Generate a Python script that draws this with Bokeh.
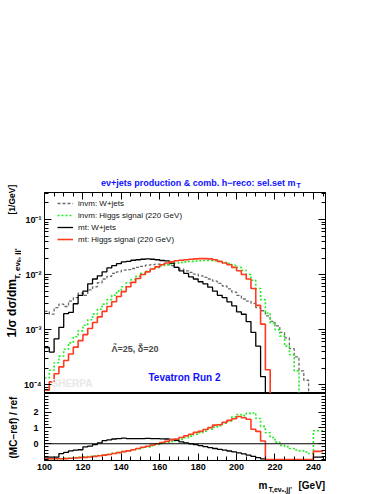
import numpy as np
from bokeh.plotting import figure
from bokeh.layouts import column, row
from bokeh.models import (FixedTicker, LinearAxis, LogAxis, Label, Legend,
                          LegendItem, Span, Range1d)
from bokeh.embed import file_html
from bokeh.resources import INLINE

# ---------------- data ----------------
BIN_EDGES = [100.0, 102.5, 105.0, 107.5, 110.0, 112.5, 115.0, 117.5, 120.0, 122.5,
             125.0, 127.5, 130.0, 132.5, 135.0, 137.5, 140.0, 142.5, 145.0, 147.5,
             150.0, 152.5, 155.0, 157.5, 160.0, 162.5, 165.0, 167.5, 170.0, 172.5,
             175.0, 177.5, 180.0, 182.5, 185.0, 187.5, 190.0, 192.5, 195.0, 197.5,
             200.0, 202.5, 205.0, 207.5, 210.0, 212.5, 215.0, 217.5, 220.0, 222.5,
             225.0, 227.5, 230.0, 232.5, 235.0, 237.5, 240.0, 242.5, 245.0]

INVM_WJETS = [2.14e-3, 1.91e-3, 2.5e-3, 2.9e-3, 2.63e-3, 3.3e-3, 3.8e-3, 4.6e-3, 4.2e-3, 5.25e-3,
              6.0e-3, 7.1e-3, 8.3e-3, 9.3e-3, 1.05e-2, 1.12e-2, 1.20e-2, 1.23e-2, 1.29e-2, 1.35e-2,
              1.41e-2, 1.48e-2, 1.51e-2, 1.55e-2, 1.55e-2, 1.51e-2, 1.45e-2, 1.35e-2, 1.26e-2, 1.17e-2,
              1.10e-2, 1.02e-2, 9.5e-3, 8.9e-3, 8.3e-3, 7.6e-3, 6.9e-3, 6.2e-3, 5.5e-3, 4.8e-3,
              4.2e-3, 3.6e-3, 3.3e-3, 3.0e-3, 2.5e-3, 2.2e-3, 1.78e-3, 1.41e-3, 1.17e-3, 8.9e-4,
              7.1e-4, 4.5e-4, 3.2e-4, 1.78e-4, 1.2e-4, 0.0, 0.0, 0.0]

INVM_HIGGS = [1.32e-4, 1.82e-4, 2.5e-4, 3.3e-4, 4.4e-4, 5.75e-4, 7.4e-4, 9.5e-4, 1.20e-3, 1.51e-3,
              1.91e-3, 2.34e-3, 2.9e-3, 3.5e-3, 4.2e-3, 5.0e-3, 6.0e-3, 7.1e-3, 8.1e-3, 9.3e-3,
              1.05e-2, 1.15e-2, 1.26e-2, 1.35e-2, 1.45e-2, 1.51e-2, 1.58e-2, 1.62e-2, 1.66e-2, 1.70e-2,
              1.74e-2, 1.76e-2, 1.78e-2, 1.80e-2, 1.80e-2, 1.78e-2, 1.74e-2, 1.66e-2, 1.58e-2, 1.48e-2,
              1.35e-2, 1.20e-2, 1.0e-2, 7.9e-3, 5.6e-3, 3.5e-3, 2.0e-3, 1.32e-3, 1.0e-3, 7.6e-4,
              5.0e-4, 3.5e-4, 1.78e-4, 0.0, 0.0, 0.0, 0.0, 0.0]

MT_WJETS = [4.7e-4, 3.9e-4, 6.8e-4, 1.10e-3, 1.95e-3, 2.05e-3, 2.95e-3, 4.2e-3, 5.0e-3, 6.8e-3,
            8.3e-3, 9.5e-3, 1.12e-2, 1.32e-2, 1.45e-2, 1.58e-2, 1.70e-2, 1.74e-2, 1.82e-2, 1.86e-2,
            1.90e-2, 1.93e-2, 1.90e-2, 1.86e-2, 1.80e-2, 1.78e-2, 1.62e-2, 1.35e-2, 1.17e-2, 1.05e-2,
            9.1e-3, 8.3e-3, 7.4e-3, 6.8e-3, 5.9e-3, 5.0e-3, 4.2e-3, 3.8e-3, 3.2e-3, 2.7e-3,
            2.1e-3, 1.9e-3, 1.4e-3, 8.9e-4, 5.0e-4, 1.4e-4, 0.0, 0.0, 0.0, 0.0,
            0.0, 0.0, 0.0, 0.0, 0.0, 0.0, 0.0, 0.0]

MT_HIGGS = [7.9e-5, 1.12e-4, 1.58e-4, 2.1e-4, 2.75e-4, 3.6e-4, 4.8e-4, 6.3e-4, 8.1e-4, 1.05e-3,
            1.35e-3, 1.70e-3, 2.14e-3, 2.63e-3, 3.2e-3, 4.0e-3, 4.9e-3, 6.0e-3, 7.2e-3, 8.5e-3,
            1.0e-2, 1.12e-2, 1.26e-2, 1.38e-2, 1.51e-2, 1.62e-2, 1.70e-2, 1.78e-2, 1.82e-2, 1.86e-2,
            1.90e-2, 1.93e-2, 1.95e-2, 1.95e-2, 1.93e-2, 1.86e-2, 1.74e-2, 1.62e-2, 1.51e-2, 1.35e-2,
            1.17e-2, 1.0e-2, 8.3e-3, 5.6e-3, 2.75e-3, 1.26e-3, 1.86e-4, 0.0, 0.0, 0.0,
            0.0, 0.0, 0.0, 0.0, 0.0, 0.0, 0.0, 0.0]

# (MC - ref) / ref, reference = invm: W+jets
RATIO_MT_WJETS = [-0.85, -0.85, -0.85, -0.62, -0.55, -0.45, -0.40, -0.38, -0.20, -0.15,
                  -0.05, 0.05, 0.20, 0.25, 0.30, 0.32, 0.35, 0.33, 0.33, 0.32,
                  0.33, 0.34, 0.32, 0.33, 0.31, 0.30, 0.27, 0.22, 0.12, 0.06,
                  0.00, -0.06, -0.12, -0.18, -0.24, -0.30, -0.35, -0.40, -0.46, -0.52,
                  -0.58, -0.64, -0.72, -0.80, -0.88, -0.96, -1.0, -1.0, -1.0, -1.0,
                  -1.0, -1.0, -1.0, -1.0, -1.0, -1.0, -0.85, -0.85]

RATIO_MT_HIGGS = [-0.95, -0.95, -0.95, -0.95, -0.94, -0.92, -0.90, -0.88, -0.86, -0.84,
                  -0.80, -0.76, -0.72, -0.68, -0.62, -0.56, -0.50, -0.45, -0.38, -0.30,
                  -0.22, -0.16, -0.08, 0.00, 0.08, 0.15, 0.25, 0.30, 0.40, 0.50,
                  0.60, 0.72, 0.78, 0.90, 1.02, 1.18, 1.20, 1.35, 1.48, 1.58,
                  1.72, 1.65, 1.55, 0.92, 0.78, 0.17, -1.0, -1.0, -1.0, -1.0,
                  -1.0, -1.0, -1.0, -1.0, -1.0, -1.0, -0.48, -0.48]

RATIO_INVM_HIGGS = [-0.95, -0.95, -0.94, -0.93, -0.92, -0.90, -0.88, -0.85, -0.83, -0.80,
                    -0.78, -0.74, -0.70, -0.66, -0.60, -0.55, -0.50, -0.45, -0.38, -0.32,
                    -0.25, -0.20, -0.12, -0.05, 0.02, 0.10, 0.15, 0.20, 0.28, 0.38,
                    0.48, 0.60, 0.70, 0.80, 0.92, 1.05, 1.15, 1.30, 1.45, 1.70,
                    1.85, 1.78, 1.92, 1.95, 1.60, 1.10, 0.70, 0.40, 0.10, -0.10,
                    -0.18, -0.30, -0.40, -0.45, -0.52, -0.62, 0.82, 0.82]

X_TICKS = [100, 120, 140, 160, 180, 200, 220, 240]
Y_TICKS = [1e-4, 1e-3, 1e-2, 1e-1]
Y_TICK_LABELS = ["10\u207b\u2074", "10\u207b\u00b3", "10\u207b\u00b2", "10\u207b\u00b9"]
R_TICKS = [0, 1, 2]

LEGEND_LABELS = ["invm: W+jets", "invm: Higgs signal (220 GeV)",
                 "mt: W+jets", "mt: Higgs signal (220 GeV)"]

# ---------------- styling ----------------
FONT = "Liberation Sans"
C_GREY = "#6a6a6a"
C_GREEN = "#22ee22"
C_BLACK = "#000000"
C_RED = "#ff3b1f"
C_BLUE = "#1010ff"

X_MIN, X_MAX = 100.0, 246.3
Y_MIN, Y_MAX = 6.9e-5, 0.31
R_MIN, R_MAX = -1.06, 3.18

LEFT_W = 21          # strip holding the rotated y titles
PLOT_W = 353         # width of the two data panels
B_LEFT, B_RIGHT = 22, 49
FRAME_X0 = LEFT_W + B_LEFT   # window x of the frames' left edge (43)
TITLE_H = 188
MAIN_TOPB, MAIN_H = 4, 201
RAT_H, RAT_BOTTOMB = 67, 16
XLAB_H = 18
TOTAL_H = TITLE_H + MAIN_TOPB + MAIN_H + RAT_H + RAT_BOTTOMB + XLAB_H  # 494


def step_path(edges, vals, floor=None):
    xs, ys = [], []
    for i, v in enumerate(vals):
        if floor is not None and v <= 0:
            v = floor
        xs += [edges[i], edges[i + 1]]
        ys += [v, v]
    return xs, ys


x_minor = [float(v) for v in np.arange(100, 250, 5) if v not in X_TICKS]
y_minor = [m * 10.0 ** k for k in range(-5, 0) for m in range(2, 10)]
r_minor = [round(float(v), 2) for v in np.arange(-1.0, 3.21, 0.2)]


def style_axis(ax, show_labels=True):
    ax.major_tick_in = 7
    ax.major_tick_out = 0
    ax.minor_tick_in = 4
    ax.minor_tick_out = 0
    ax.axis_line_color = "black"
    ax.major_tick_line_color = "black"
    ax.minor_tick_line_color = "black"
    ax.major_label_text_font = FONT
    ax.major_label_text_font_style = "bold"
    ax.major_label_text_font_size = "9px"
    ax.major_label_text_color = "black"
    if not show_labels:
        ax.major_label_text_font_size = "1px"
        ax.major_label_text_alpha = 0.0
        ax.major_label_standoff = 0


def blank_fig(w, h):
    f = figure(width=w, height=h, x_range=Range1d(0, 1), y_range=Range1d(0, 1),
               x_axis_location=None, y_axis_location=None,
               output_backend="svg", toolbar_location=None, min_border=0)
    f.grid.visible = False
    f.outline_line_color = None
    return f


def lab(fig, text, x, y, size, color="black", style="bold", align="left",
        baseline="alphabetic", angle=0.0):
    fig.add_layout(Label(x=x, y=y, x_units="screen", y_units="screen", text=text,
                         text_font=FONT, text_font_size=size, text_color=color,
                         text_font_style=style, text_align=align,
                         text_baseline=baseline, angle=angle, angle_units="deg"))


# ---------------- title strip (its frame is aligned with the data frames) ----------------
T = blank_fig(PLOT_W, TITLE_H)
lab(T, "e\u03bd+jets production & comb. h\u2212reco: sel.set m", 294 - FRAME_X0, TITLE_H - 182,
    "9px", color=C_BLUE, align="right")
lab(T, "T", 295 - FRAME_X0, TITLE_H - 185, "7px", color=C_BLUE)

# ---------------- main panel ----------------
p1 = figure(width=PLOT_W, height=MAIN_TOPB + MAIN_H,
            x_range=Range1d(X_MIN, X_MAX), y_range=Range1d(Y_MIN, Y_MAX),
            y_axis_type="log", x_axis_location="above",
            output_backend="svg", toolbar_location=None,
            min_border_left=B_LEFT, min_border_right=B_RIGHT,
            min_border_top=MAIN_TOPB, min_border_bottom=0)
p1.grid.visible = False
p1.outline_line_color = "black"

p1.xaxis.ticker = FixedTicker(ticks=X_TICKS, minor_ticks=x_minor)
p1.yaxis.ticker = FixedTicker(ticks=Y_TICKS, minor_ticks=y_minor)
p1.yaxis.major_label_overrides = {t: s for t, s in zip(Y_TICKS, Y_TICK_LABELS)}
style_axis(p1.xaxis[0], show_labels=False)
style_axis(p1.yaxis[0])
p1.yaxis.major_label_standoff = 3
ax_r = LogAxis(ticker=FixedTicker(ticks=Y_TICKS, minor_ticks=y_minor))
style_axis(ax_r, show_labels=False)
p1.add_layout(ax_r, "right")

FLOOR = 1e-9
series = [
    (INVM_WJETS, C_GREY, 1.3, "3 2"),
    (INVM_HIGGS, C_GREEN, 1.6, "2 2"),
    (MT_WJETS, C_BLACK, 1.3, "solid"),
    (MT_HIGGS, C_RED, 1.6, "solid"),
]
renderers = []
for vals, col, lw, dash in series:
    xs, ys = step_path(BIN_EDGES, vals, FLOOR)
    renderers.append(p1.line(xs, ys, line_color=col, line_width=lw, line_dash=dash))

legend = Legend(items=[LegendItem(label=l_, renderers=[r])
                       for l_, r in zip(LEGEND_LABELS, renderers)],
                location=(13, 148), orientation="vertical",
                background_fill_alpha=0, border_line_alpha=0,
                padding=0, margin=0, spacing=0,
                glyph_width=16, glyph_height=12, label_height=12,
                label_standoff=5,
                label_text_font=FONT, label_text_font_size="8px",
                label_text_color="#111111")
p1.add_layout(legend)

# labels inside the main frame (x = window x - 43, y = 393 - window y)
lab(p1, "SHERPA", 50 - 43, 393 - 383, "10px", color="#e8e8e8")
lab(p1, "\u039b\u0303=25, \u03b4\u0303=20", 110 - 43, 393 - 348, "9px", color="#4a4a4a")
lab(p1, "Tevatron Run 2", 183 - 43, 393 - 377, "10px", color=C_BLUE, align="center")

# ---------------- ratio panel ----------------
p2 = figure(width=PLOT_W, height=RAT_H + RAT_BOTTOMB,
            x_range=p1.x_range, y_range=Range1d(R_MIN, R_MAX),
            output_backend="svg", toolbar_location=None,
            min_border_left=B_LEFT, min_border_right=B_RIGHT,
            min_border_top=0, min_border_bottom=RAT_BOTTOMB)
p2.grid.visible = False
p2.outline_line_color = "black"
p2.xaxis.ticker = FixedTicker(ticks=X_TICKS, minor_ticks=x_minor)
p2.yaxis.ticker = FixedTicker(ticks=R_TICKS, minor_ticks=r_minor)
style_axis(p2.xaxis[0])
p2.xaxis.major_label_standoff = 3
style_axis(p2.yaxis[0])
p2.yaxis.major_label_standoff = 6
ax_r2 = LinearAxis(ticker=FixedTicker(ticks=R_TICKS, minor_ticks=r_minor))
style_axis(ax_r2, show_labels=False)
p2.add_layout(ax_r2, "right")

p2.add_layout(Span(location=0, dimension="width", line_color="black", line_width=1))
for vals, col, lw, dash in [(RATIO_INVM_HIGGS, C_GREEN, 1.6, "2 2"),
                            (RATIO_MT_WJETS, C_BLACK, 1.3, "solid"),
                            (RATIO_MT_HIGGS, C_RED, 1.6, "solid")]:
    xs, ys = step_path(BIN_EDGES, vals)
    p2.line(xs, ys, line_color=col, line_width=lw, line_dash=dash)

# x title strip (window y 476..494; frame aligned with data frames)
X = blank_fig(PLOT_W, XLAB_H)
lab(X, "m", 257 - FRAME_X0, 494 - 485, "10px")
lab(X, "T,e\u03bd\u2091,jj'", 267 - FRAME_X0, 494 - 489, "7px")
lab(X, "[GeV]", 297 - FRAME_X0, 494 - 485, "10px")

# ---------------- full-height strip with the rotated y titles ----------------
L = blank_fig(LEFT_W, TOTAL_H)
lab(L, "1/\u03c3 d\u03c3/dm", 11, TOTAL_H - 337, "12px", baseline="middle", angle=90)
lab(L, "T, e\u03bd\u2091, jj'", 17, TOTAL_H - 279, "8px", baseline="middle", angle=90)
lab(L, "[1/GeV]", 11, TOTAL_H - 214, "8.5px", baseline="middle", angle=90)
lab(L, "(MC\u2212ref) / ref", 13, TOTAL_H - 458, "10px", baseline="middle", angle=90)

layout = row(L, column(T, p1, p2, X, spacing=0), spacing=0)
open("out.html", "w").write(file_html(layout, INLINE))
